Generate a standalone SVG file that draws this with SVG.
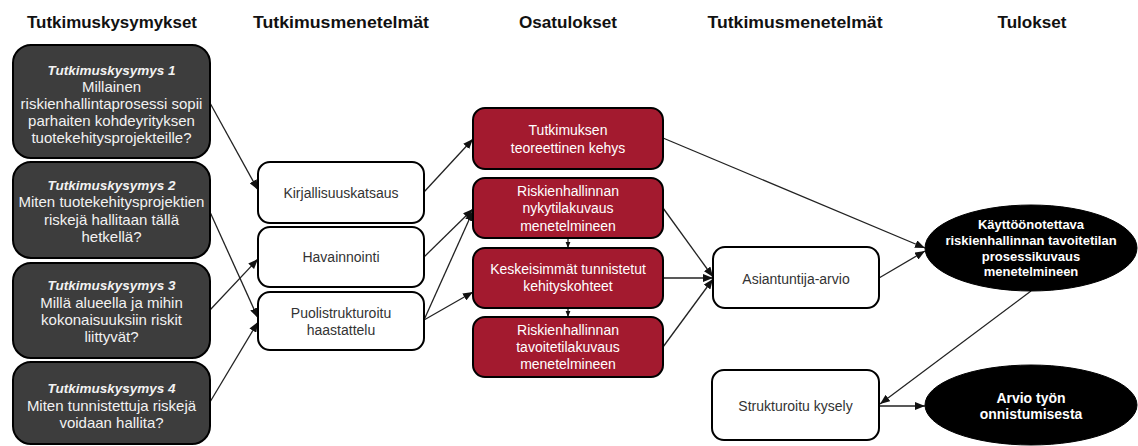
<svg xmlns="http://www.w3.org/2000/svg" width="1138" height="446" viewBox="0 0 1138 446">
  <defs>
    <marker id="arrow" viewBox="0 0 10 8" refX="10" refY="4" markerWidth="10" markerHeight="8" markerUnits="userSpaceOnUse" orient="auto">
      <path d="M0,0 L10,4 L0,8 Z" fill="#111"/>
    </marker>
    <marker id="arrow-sm" viewBox="0 0 10 8" refX="10" refY="4" markerWidth="6" markerHeight="6" markerUnits="userSpaceOnUse" orient="auto">
      <path d="M0,0 L10,4 L0,8 Z" fill="#111"/>
    </marker>
    <style>
      .hdr { font-family: "Liberation Sans", Arial, sans-serif; font-weight: bold; font-size: 17px; fill: #111; text-anchor: middle; }
      .q rect { fill: #3d3d3d; stroke: #000; stroke-width: 2; }
      .q text { font-family: "Liberation Sans", Arial, sans-serif; font-size: 15px; fill: #f2f2f2; text-anchor: middle; }
      .q .ttl { font-weight: bold; font-style: italic; font-size: 13.5px; }
      .m rect { fill: #fff; stroke: #000; stroke-width: 2; }
      .m text { font-family: "Liberation Sans", Arial, sans-serif; font-size: 14px; fill: #333; text-anchor: middle; }
      .r rect { fill: #a31a2f; stroke: #000; stroke-width: 2; }
      .r text { font-family: "Liberation Sans", Arial, sans-serif; font-size: 14px; fill: #fff; text-anchor: middle; }
      .e ellipse { fill: #000; stroke: #000; stroke-width: 1; }
      .e text { font-family: "Liberation Sans", Arial, sans-serif; font-weight: bold; font-size: 13px; fill: #fff; text-anchor: middle; }
      .conn line { stroke: #222; stroke-width: 1.3; fill: none; marker-end: url(#arrow); }
      .conn line.sm { marker-end: url(#arrow-sm); }
    </style>
  </defs>

  <rect x="0" y="0" width="1138" height="446" fill="#fff"/>

  <!-- column headers -->
  <g id="headers">
    <text class="hdr" x="112" y="28" textLength="170" lengthAdjust="spacingAndGlyphs">Tutkimuskysymykset</text>
    <text class="hdr" x="341" y="28" textLength="176" lengthAdjust="spacingAndGlyphs">Tutkimusmenetelmät</text>
    <text class="hdr" x="568" y="28" textLength="98" lengthAdjust="spacingAndGlyphs">Osatulokset</text>
    <text class="hdr" x="795" y="28" textLength="175" lengthAdjust="spacingAndGlyphs">Tutkimusmenetelmät</text>
    <text class="hdr" x="1032" y="28" textLength="69" lengthAdjust="spacingAndGlyphs">Tulokset</text>
  </g>

  <!-- connectors -->
  <g id="connectors" class="conn">
    <line x1="210" y1="103" x2="258" y2="190"/>
    <line x1="210" y1="212" x2="258" y2="318"/>
    <line x1="210" y1="310" x2="258" y2="259"/>
    <line x1="210" y1="402" x2="258" y2="322"/>
    <line x1="424" y1="192" x2="473" y2="139"/>
    <line x1="424" y1="257" x2="473" y2="209"/>
    <line x1="424" y1="320" x2="473" y2="211"/>
    <line x1="424" y1="320" x2="473" y2="292"/>
    <line x1="663" y1="138" x2="925" y2="248"/>
    <line x1="663" y1="208" x2="713" y2="277"/>
    <line x1="663" y1="278" x2="713" y2="278"/>
    <line x1="663" y1="347" x2="713" y2="279"/>
    <line x1="879" y1="278" x2="925" y2="251"/>
    <line x1="1031" y1="291" x2="880" y2="404"/>
    <line x1="879" y1="406" x2="925" y2="406"/>
    <line class="sm" x1="568" y1="238" x2="568" y2="248"/>
    <line class="sm" x1="568" y1="308" x2="568" y2="317"/>
  </g>

  <!-- research questions -->
  <g id="q1" class="q">
    <rect x="13" y="45" width="197" height="113" rx="18"/>
    <text class="ttl" x="111.5" y="75">Tutkimuskysymys 1</text>
    <text x="111.5" y="92">Millainen</text>
    <text x="111.5" y="109">riskienhallintaprosessi sopii</text>
    <text x="111.5" y="126">parhaiten kohdeyrityksen</text>
    <text x="111.5" y="143">tuotekehitysprojekteille?</text>
  </g>
  <g id="q2" class="q">
    <rect x="13" y="162" width="197" height="96" rx="18"/>
    <text class="ttl" x="111.5" y="190">Tutkimuskysymys 2</text>
    <text x="111.5" y="207">Miten tuotekehitysprojektien</text>
    <text x="111.5" y="225">riskejä hallitaan tällä</text>
    <text x="111.5" y="242">hetkellä?</text>
  </g>
  <g id="q3" class="q">
    <rect x="13" y="263" width="197" height="95" rx="18"/>
    <text class="ttl" x="111.5" y="290">Tutkimuskysymys 3</text>
    <text x="111.5" y="308">Millä alueella ja mihin</text>
    <text x="111.5" y="325">kokonaisuuksiin riskit</text>
    <text x="111.5" y="342">liittyvät?</text>
  </g>
  <g id="q4" class="q">
    <rect x="13" y="362" width="197" height="82" rx="18"/>
    <text class="ttl" x="111.5" y="393">Tutkimuskysymys 4</text>
    <text x="111.5" y="411">Miten tunnistettuja riskejä</text>
    <text x="111.5" y="428">voidaan hallita?</text>
  </g>

  <!-- research methods -->
  <g id="kirjallisuuskatsaus" class="m">
    <rect x="258" y="162" width="166" height="61" rx="12"/>
    <text x="341" y="198">Kirjallisuuskatsaus</text>
  </g>
  <g id="havainnointi" class="m">
    <rect x="258" y="227" width="166" height="60" rx="12"/>
    <text x="341" y="262">Havainnointi</text>
  </g>
  <g id="haastattelu" class="m">
    <rect x="258" y="292" width="166" height="58" rx="12"/>
    <text x="341" y="318">Puolistrukturoitu</text>
    <text x="341" y="335">haastattelu</text>
  </g>

  <!-- partial results -->
  <g id="kehys" class="r">
    <rect x="473" y="108" width="190" height="61" rx="12"/>
    <text x="568" y="135">Tutkimuksen</text>
    <text x="568" y="153">teoreettinen kehys</text>
  </g>
  <g id="nykytila" class="r">
    <rect x="473" y="178" width="190" height="60" rx="12"/>
    <text x="568" y="196">Riskienhallinnan</text>
    <text x="568" y="213">nykytilakuvaus</text>
    <text x="568" y="231">menetelmineen</text>
  </g>
  <g id="kehityskohteet" class="r">
    <rect x="473" y="248" width="190" height="60" rx="12"/>
    <text x="568" y="274">Keskeisimmät tunnistetut</text>
    <text x="568" y="291">kehityskohteet</text>
  </g>
  <g id="tavoitetila" class="r">
    <rect x="473" y="317" width="190" height="60" rx="12"/>
    <text x="568" y="335">Riskienhallinnan</text>
    <text x="568" y="352">tavoitetilakuvaus</text>
    <text x="568" y="369">menetelmineen</text>
  </g>

  <!-- evaluation methods -->
  <g id="asiantuntija" class="m">
    <rect x="713" y="247" width="166" height="61" rx="12"/>
    <text x="796" y="284">Asiantuntija-arvio</text>
  </g>
  <g id="kysely" class="m">
    <rect x="712" y="370" width="167" height="70" rx="12"/>
    <text x="795.5" y="411">Strukturoitu kysely</text>
  </g>

  <!-- results -->
  <g id="prosessikuvaus" class="e">
    <ellipse cx="1031" cy="248" rx="106" ry="43"/>
    <text x="1031" y="229">Käyttöönotettava</text>
    <text x="1031" y="245">riskienhallinnan tavoitetilan</text>
    <text x="1031" y="261">prosessikuvaus</text>
    <text x="1031" y="276">menetelmineen</text>
  </g>
  <g id="arvio" class="e">
    <ellipse cx="1031" cy="405" rx="106" ry="40"/>
    <text x="1031" y="403" style="font-size:14px">Arvio työn</text>
    <text x="1031" y="419" style="font-size:14px">onnistumisesta</text>
  </g>
</svg>
